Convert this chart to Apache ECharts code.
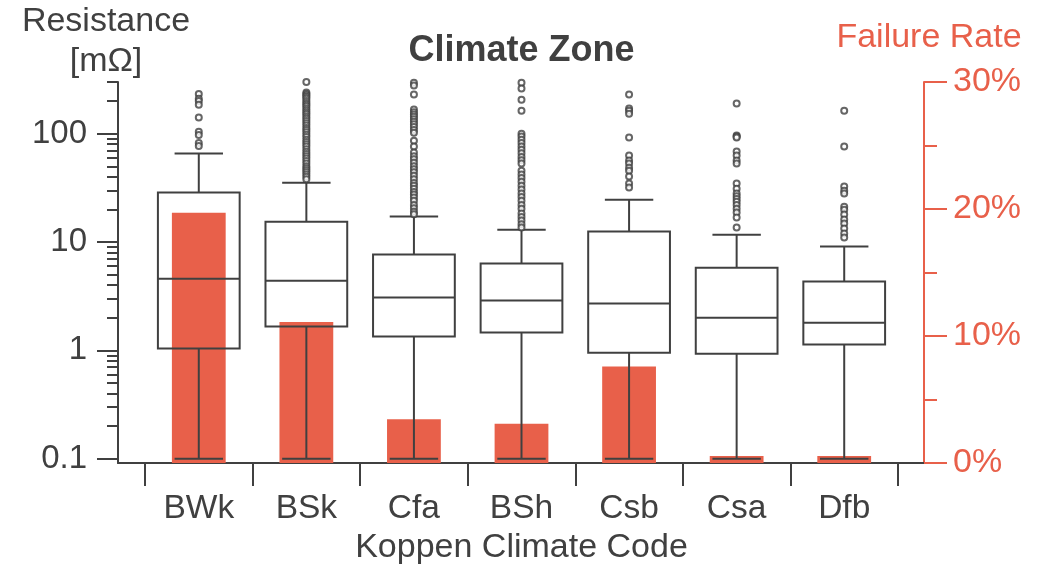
<!DOCTYPE html>
<html>
<head>
<meta charset="utf-8">
<script src="https://cdn.jsdelivr.net/npm/echarts@6/dist/echarts.min.js"></script>
<style>html,body{margin:0;padding:0;background:#fff}#c{width:1043px;height:567px}</style>
</head>
<body>
<div id="c"></div>
<script>
// ---- data ----
const categories = ['BWk', 'BSk', 'Cfa', 'BSh', 'Csb', 'Csa', 'Dfb'];
const whiskerLow = [0.1, 0.1, 0.1, 0.1, 0.1, 0.1, 0.1];
const q1 = [1.04, 1.66, 1.34, 1.46, 0.95, 0.93, 1.13];
const median = [4.59, 4.40, 3.07, 2.88, 2.70, 2.00, 1.80];
const q3 = [28.6, 15.4, 7.65, 6.32, 12.5, 5.8, 4.31];
const whiskerHigh = [65.5, 35.3, 17.2, 13.0, 24.6, 11.7, 9.08];
const failureRate = [19.7, 11.1, 3.45, 3.1, 7.6, 0.55, 0.55];

const outliersBWk = [233, 210, 200, 185, 141, 104, 97, 82, 77];
const outliersBSk = [300, 240, 232, 225, 218, 210, 200, 192, 185, 178, 170, 163, 156, 150, 143, 137, 131, 125, 119, 113, 108, 103, 98, 93, 88, 84, 80, 76, 72, 68, 65, 62, 59, 56, 53, 50, 48, 46, 44, 42, 40, 38];
const outliersCfa = [295, 278, 230, 167, 158, 150, 143, 136, 129, 122, 115, 108, 102, 86, 76, 67, 62, 58, 54, 50, 47, 44, 41, 38, 35, 33, 31, 29, 27.5, 25.7, 24, 22, 20.5, 19, 18];
const outliersBSh = [295, 261, 206, 163, 100, 94, 88, 82, 76, 71, 66, 61, 57, 53, 45.6, 42, 39, 36, 33, 30.5, 28, 26, 24, 22, 20.3, 18.3, 17, 15.8, 14.6, 13.6];
const outliersCsb = [230, 171, 163, 153, 92, 62.8, 56.5, 53, 48.6, 45.6, 40.2, 34.6, 31.8];
const outliersCsa = [190, 96, 94, 92, 68.4, 62.8, 56.5, 53, 34.6, 31.1, 28, 26.5, 25, 23.5, 22, 20.3, 18.7, 16.8, 13.6];
const outliersDfb = [163, 76, 32.5, 29.8, 28, 21.2, 19.9, 17.9, 16.1, 14.8, 13.3, 12, 11];
const outlierLists = [outliersBWk, outliersBSk, outliersCfa, outliersBSh, outliersCsb, outliersCsa, outliersDfb];

const leftTicks = [0.1, 1, 10, 100];
const leftMinorTicks = [0.2, 0.3, 0.4, 0.5, 0.6, 0.7, 0.8, 0.9, 2, 3, 4, 5, 6, 7, 8, 9, 20, 30, 40, 50, 60, 70, 80, 90, 200, 300];

// ---- build ----
const dark = '#404040';
const red = '#E8604A';
const font = 'Liberation Sans, Arial, Helvetica, sans-serif';

const boxData = categories.map((c, i) => [i, whiskerLow[i], q1[i], median[i], q3[i], whiskerHigh[i]]);
const outlierData = [];
outlierLists.forEach((list, i) => list.forEach(v => outlierData.push([i, v])));

const chart = echarts.init(document.getElementById('c'), null, { renderer: 'canvas' });

chart.setOption({
  animation: false,
  backgroundColor: '#fff',
  textStyle: { fontFamily: font },
  grid: [
    { left: 145, right: 145, top: 82, bottom: 104, containLabel: false, outerBoundsMode: 'none' },
    { left: 118, right: 119, top: 82, bottom: 104, containLabel: false, outerBoundsMode: 'none' }
  ],
  graphic: [
    { type: 'text', x: 521.5, y: 51, style: { text: 'Climate Zone', font: 'bold 36px ' + font, fill: dark, align: 'center', verticalAlign: 'middle' } },
    { type: 'text', x: 106, y: 22, style: { text: 'Resistance', font: '34px ' + font, fill: dark, align: 'center', verticalAlign: 'middle' } },
    { type: 'text', x: 106, y: 62, style: { text: '[mΩ]', font: '34px ' + font, fill: dark, align: 'center', verticalAlign: 'middle' } },
    { type: 'text', x: 929, y: 38, style: { text: 'Failure Rate', font: '34px ' + font, fill: red, align: 'center', verticalAlign: 'middle' } }
  ],
  xAxis: [
    {
      type: 'category', gridIndex: 0, data: categories, boundaryGap: true,
      axisLine: { show: true, lineStyle: { color: dark, width: 2 } },
      axisTick: { show: true, length: 23, interval: 0, lineStyle: { color: dark, width: 2 } },
      axisLabel: { margin: 29, fontSize: 33.5, color: dark, fontFamily: font, interval: 0 },
      splitLine: { show: false },
      name: 'Koppen Climate Code', nameLocation: 'middle', nameGap: 68,
      nameTextStyle: { fontSize: 34, color: dark, fontFamily: font }
    },
    {
      type: 'value', gridIndex: 1, min: 0, max: 1,
      axisLine: { show: true, onZero: false, lineStyle: { color: dark, width: 2 } },
      axisTick: { show: false }, axisLabel: { show: false }, splitLine: { show: false }
    }
  ],
  yAxis: [
    {
      type: 'log', logBase: 10, gridIndex: 0, min: 0.0912, max: 300, position: 'left', offset: 27,
      axisLine: { show: true, lineStyle: { color: dark, width: 2 } },
      axisTick: { show: true, length: 21, customValues: leftTicks, lineStyle: { color: dark, width: 2 } },
      axisLabel: { customValues: leftTicks, margin: 31, fontSize: 33, color: dark, fontFamily: font, formatter: v => String(v) },
      splitLine: { show: false }, minorTick: { show: false }
    },
    {
      type: 'log', logBase: 10, gridIndex: 0, min: 0.0912, max: 300, position: 'left', offset: 27,
      axisLine: { show: false },
      axisTick: { show: true, length: 11, customValues: leftMinorTicks, lineStyle: { color: dark, width: 2 } },
      axisLabel: { show: false },
      splitLine: { show: false }
    },
    {
      type: 'value', gridIndex: 0, min: 0, max: 30, interval: 10, position: 'right', offset: 26,
      axisLine: { show: true, lineStyle: { color: red, width: 2 } },
      axisTick: { show: true, length: 23, lineStyle: { color: red, width: 2 } },
      minorTick: { show: true, splitNumber: 2, length: 13, lineStyle: { color: red, width: 2 } },
      axisLabel: { margin: 29, fontSize: 34, color: red, fontFamily: font, formatter: '{value}%' },
      splitLine: { show: false }
    },
    { type: 'value', gridIndex: 1, show: false, min: 0, max: 1 }
  ],
  series: [
    {
      type: 'bar', xAxisIndex: 0, yAxisIndex: 2, data: failureRate, barWidth: '50%',
      itemStyle: { color: red }, z: 1, silent: true
    },
    {
      type: 'custom', xAxisIndex: 0, yAxisIndex: 0, data: boxData, z: 5, silent: true,
      encode: { x: 0, y: [1, 2, 3, 4, 5] },
      renderItem: function (params, api) {
        const x = api.value(0);
        const band = api.coord([x + 1, 1])[0] - api.coord([x, 1])[0];
        const pLow = api.coord([x, api.value(1)]);
        const pQ1 = api.coord([x, api.value(2)]);
        const pMed = api.coord([x, api.value(3)]);
        const pQ3 = api.coord([x, api.value(4)]);
        const pHigh = api.coord([x, api.value(5)]);
        const cx = pMed[0];
        const hb = band * 0.38;
        const hc = band * 0.225;
        const st = { stroke: dark, lineWidth: 2, fill: null };
        return {
          type: 'group',
          children: [
            { type: 'rect', shape: { x: cx - hb, y: pQ3[1], width: 2 * hb, height: pQ1[1] - pQ3[1] }, style: { stroke: dark, lineWidth: 2, fill: 'transparent' } },
            { type: 'line', shape: { x1: cx - hb, y1: pMed[1], x2: cx + hb, y2: pMed[1] }, style: st },
            { type: 'line', shape: { x1: cx, y1: pQ3[1], x2: cx, y2: pHigh[1] }, style: st },
            { type: 'line', shape: { x1: cx, y1: pQ1[1], x2: cx, y2: pLow[1] }, style: st },
            { type: 'line', shape: { x1: cx - hc, y1: pHigh[1], x2: cx + hc, y2: pHigh[1] }, style: st },
            { type: 'line', shape: { x1: cx - hc, y1: pLow[1], x2: cx + hc, y2: pLow[1] }, style: st }
          ]
        };
      }
    },
    {
      type: 'scatter', xAxisIndex: 0, yAxisIndex: 0, data: outlierData, z: 6, silent: true,
      symbol: 'emptyCircle', symbolSize: 6,
      itemStyle: { color: dark, borderColor: dark, borderWidth: 1.6 }
    }
  ]
});
</script>
</body>
</html>
